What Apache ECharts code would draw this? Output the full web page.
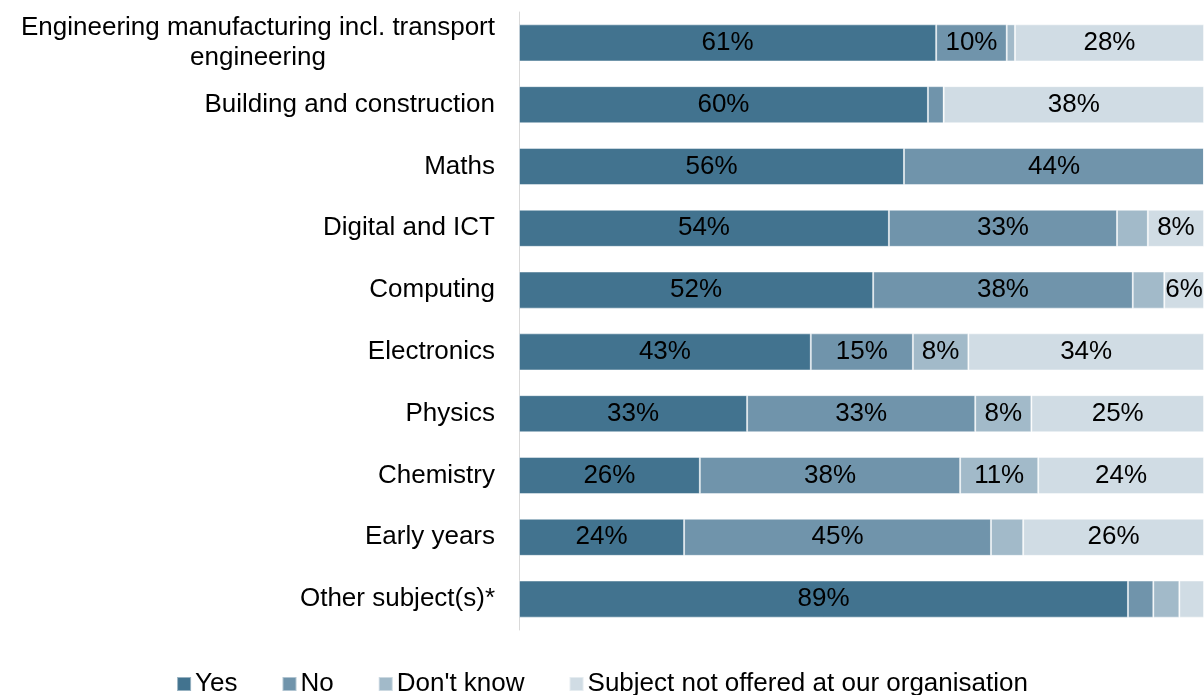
<!DOCTYPE html>
<html><head><meta charset="utf-8">
<script src="https://cdn.jsdelivr.net/npm/echarts@6/dist/echarts.min.js"></script>
<style>html,body{margin:0;padding:0;background:#fff}#c{width:1204px;height:695px}</style>
</head><body><div id="c"></div>
<script>
const categories = ["Engineering manufacturing incl. transport\nengineering","Building and construction","Maths","Digital and ICT","Computing","Electronics","Physics","Chemistry","Early years","Other subject(s)*"];
const seriesNames = ["Yes","No","Don't know","Subject not offered at our organisation"];
const yes = [60.9, 59.7, 56.2, 54.0, 51.7, 42.6, 33.3, 26.4, 24.1, 88.9];
const no = [10.3, 2.3, 43.8, 33.3, 37.9, 14.9, 33.3, 38.0, 44.8, 3.7];
const dontKnow = [1.2, 0, 0, 4.5, 4.6, 8.1, 8.2, 11.4, 4.7, 3.8];
const notOffered = [27.6, 38.0, 0, 8.2, 5.8, 34.4, 25.2, 24.2, 26.4, 3.6];
const colors = ["#42738f","#7094ab","#a2bac9","#d0dce4"];
const data = [yes, no, dontKnow, notOffered];
const FF = 'Liberation Sans, Arial, sans-serif';
const chart = echarts.init(document.getElementById('c'));
chart.setOption({
  animation:false,
  textStyle:{fontFamily:FF},
  grid:{left:519,right:0,top:12,bottom:65,containLabel:false},
  xAxis:{type:'value',min:0,max:100,show:false},
  yAxis:{type:'category',data:categories,inverse:true,
    axisLine:{show:true,lineStyle:{color:'#d9d9d9',width:1}},
    axisTick:{show:false},
    axisLabel:{fontSize:26,color:'#000',margin:24,lineHeight:30,align:'right',
      formatter:function(v){
        if(v.indexOf('\n')>=0){const parts=v.split('\n');return '{a|'+parts[0]+'}\n{b|'+parts[1]+'}';}
        return v;
      },
      rich:{a:{fontSize:26,fontFamily:FF,color:'#000',lineHeight:30},
            b:{fontSize:26,fontFamily:FF,color:'#000',lineHeight:30,width:473,align:'center'}}}},
  legend:{top:666,left:'center',itemWidth:14,itemHeight:14,itemGap:44,
    icon:'rect',textStyle:{fontSize:26,color:'#000',padding:[0,0,0,-1]},data:seriesNames},
  series: seriesNames.map((n,i)=>({
    name:n,type:'bar',stack:'a',barWidth:'60%',
    data:data[i],
    itemStyle:{color:colors[i],borderColor:'rgba(255,255,255,0.45)',borderWidth:1},
    label:{show:true,position:'inside',fontSize:26,color:'#000',
      formatter:p=>p.value>=5.5?Math.round(p.value)+'%':''}
  }))
});
</script></body></html>
